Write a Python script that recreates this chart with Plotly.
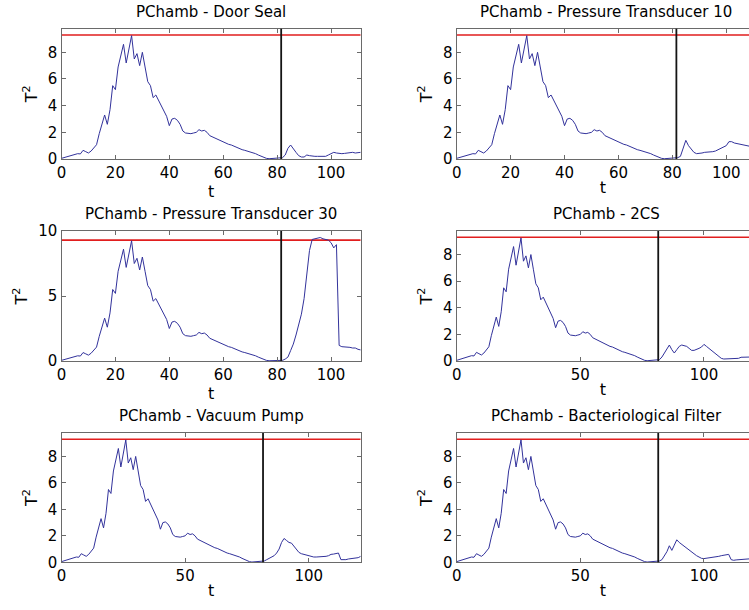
import plotly.graph_objects as go

# ---- data ----
# common (normal-operation) part, t = 0..81
common = [0.05, 0.1, 0.15, 0.2, 0.25, 0.3, 0.4, 0.38, 0.65, 0.55,
          0.45, 0.6, 0.8, 1.07, 1.9, 2.7, 3.3, 2.6, 3.7, 5.5,
          5.2, 6.9, 7.8, 8.6, 7.2, 8.3, 9.25, 7.5, 7.9, 7.0,
          8.0, 6.9, 5.8, 5.5, 4.6, 4.8, 4.4, 4.0, 3.6, 3.2,
          2.5, 3.0, 3.05, 2.9, 2.6, 2.1, 1.95, 1.9, 1.9, 1.95,
          2.0, 2.2, 2.1, 2.15, 2.0, 1.75, 1.65, 1.55, 1.45, 1.35,
          1.3, 1.2, 1.1, 1.05, 0.95, 0.9, 0.8, 0.7, 0.65, 0.6,
          0.55, 0.5, 0.4, 0.3, 0.2, 0.1, 0.05, 0.02, 0.03, 0.03,
          0.04, 0.08]

# fault parts, t = 82..111
door_seal_post = [0.1, 0.3, 0.8, 1.05, 0.75, 0.5, 0.25, 0.15, 0.15, 0.3,
                  0.25, 0.2, 0.2, 0.2, 0.2, 0.2, 0.2, 0.3, 0.4, 0.5,
                  0.45, 0.4, 0.4, 0.42, 0.45, 0.5, 0.5, 0.45, 0.5, 0.5]
pt10_post = [0.1, 0.2, 0.8, 1.4, 1.0, 0.7, 0.5, 0.4, 0.4, 0.45,
             0.5, 0.5, 0.5, 0.55, 0.6, 0.7, 0.8, 0.9, 1.0, 1.3,
             1.3, 1.2, 1.15, 1.1, 1.05, 1.0, 0.95, 0.95, 0.9, 0.9]
pt30_post = [0.05, 0.15, 0.3, 0.8, 1.3, 2.0, 2.7, 3.6, 4.8, 6.6,
             8.5, 9.35, 9.4, 9.45, 9.5, 9.4, 9.35, 9.3, 9.1, 8.7,
             8.95, 1.2, 1.1, 1.1, 1.05, 1.05, 1.0, 1.0, 0.9, 0.85]
# fault parts, t = 82..121
cs2_post = [0.1, 0.3, 0.6, 0.9, 1.2, 0.85, 0.6, 0.85, 1.1, 1.2,
            1.15, 1.1, 0.95, 0.8, 0.8, 0.85, 0.95, 1.05, 1.25, 1.1,
            0.95, 0.8, 0.6, 0.45, 0.3, 0.2, 0.15, 0.15, 0.15, 0.15,
            0.15, 0.15, 0.2, 0.28, 0.3, 0.3, 0.3, 0.3, 0.3, 0.3]
vacuum_post = [0.1, 0.2, 0.3, 0.38, 0.5, 0.7, 1.0, 1.5, 1.8, 1.65,
               1.5, 1.45, 1.2, 0.95, 0.75, 0.65, 0.6, 0.55, 0.5, 0.42,
               0.4, 0.4, 0.4, 0.4, 0.42, 0.45, 0.5, 0.6, 0.62, 0.65,
               0.7, 0.2, 0.18, 0.2, 0.25, 0.27, 0.28, 0.3, 0.35, 0.45]
bact_post = [0.1, 0.2, 0.5, 0.8, 1.25, 0.9, 1.3, 1.7, 1.5, 1.35,
             1.2, 1.05, 0.9, 0.75, 0.6, 0.5, 0.4, 0.3, 0.28, 0.3,
             0.32, 0.35, 0.38, 0.4, 0.45, 0.5, 0.55, 0.6, 0.6, 0.2,
             0.15, 0.18, 0.2, 0.22, 0.25, 0.25, 0.28, 0.3, 0.3, 0.3]

titles = ["PChamb - Door Seal", "PChamb - Pressure Transducer 10",
          "PChamb - Pressure Transducer 30", "PChamb - 2CS",
          "PChamb - Vacuum Pump", "PChamb - Bacteriological Filter"]
series = [common + door_seal_post, common + pt10_post,
          common + pt30_post, common + cs2_post,
          common + vacuum_post, common + bact_post]
xlims = [111, 111, 111, 121, 121, 121]
ymaxs = [9.77, 9.77, 10, 9.77, 9.77, 9.77]
xtick_vals = [[0, 20, 40, 60, 80, 100], [0, 20, 40, 60, 80, 100],
              [0, 20, 40, 60, 80, 100], [0, 50, 100], [0, 50, 100], [0, 50, 100]]
ytick_vals = [[0, 2, 4, 6, 8], [0, 2, 4, 6, 8], [0, 5, 10],
              [0, 2, 4, 6, 8], [0, 2, 4, 6, 8], [0, 2, 4, 6, 8]]
threshold = 9.3
fault_t = 81.5

# ---- layout geometry (pixels) ----
W, H = 749, 610
col_left = [61.5, 456.7]
ax_w = 299.2
rows_px = [(28.7, 159.0), (231.0, 361.0), (433.0, 562.3)]

FONT = "DejaVu Sans, Arial, sans-serif"
AX_COLOR = "#6a6a6a"

fig = go.Figure()
layout = dict(width=W, height=H, margin=dict(l=0, r=0, t=0, b=0, autoexpand=False),
              paper_bgcolor="white", plot_bgcolor="white", showlegend=False,
              font=dict(family=FONT, size=15, color="black"))
annotations = []
shapes = []

for i in range(6):
    r, c = divmod(i, 2)
    n = i + 1
    xa = "xaxis" if n == 1 else f"xaxis{n}"
    ya = "yaxis" if n == 1 else f"yaxis{n}"
    xr = "x" if n == 1 else f"x{n}"
    yr = "y" if n == 1 else f"y{n}"
    x0 = col_left[c]
    x1 = min(x0 + ax_w, W)
    vis_frac = (x1 - x0) / ax_w
    top, bot = rows_px[r]
    vals = series[i]
    t = list(range(len(vals)))

    # threshold line
    fig.add_trace(go.Scatter(x=[0, xlims[i]], y=[threshold, threshold], mode="lines",
                             line=dict(color="rgb(225,30,30)", width=1.6),
                             xaxis=xr, yaxis=yr, hoverinfo="skip"))
    # T^2 curve
    fig.add_trace(go.Scatter(x=t, y=vals, mode="lines",
                             line=dict(color="rgb(50,50,155)", width=1),
                             xaxis=xr, yaxis=yr))
    # fault onset line
    shapes.append(dict(type="line", xref=xr, yref=f"{yr} domain", x0=fault_t, x1=fault_t,
                       y0=0, y1=1, line=dict(color="rgb(20,20,20)", width=1.8)))

    layout[xa] = dict(domain=[x0 / W, x1 / W], range=[0, xlims[i] * vis_frac],
                      anchor=yr, tickmode="array", tickvals=xtick_vals[i],
                      ticks="inside", ticklen=4, tickcolor=AX_COLOR,
                      showline=True, linecolor=AX_COLOR, linewidth=1.2,
                      mirror="ticks", showgrid=False, zeroline=False,
                      automargin=False, tickfont=dict(size=15),
                      title=dict(text="t", font=dict(size=16), standoff=0))
    layout[ya] = dict(domain=[1 - bot / H, 1 - top / H], range=[0, ymaxs[i]],
                      anchor=xr, tickmode="array", tickvals=ytick_vals[i],
                      ticks="inside", ticklen=4, tickcolor=AX_COLOR,
                      showline=True, linecolor=AX_COLOR, linewidth=1.2,
                      mirror="ticks" if c == 0 else False,
                      showgrid=False, zeroline=False, automargin=False,
                      tickfont=dict(size=15),
                      title=dict(text="T<sup>2</sup>", font=dict(size=16), standoff=6))
    annotations.append(dict(text=titles[i], xref="paper", yref="paper",
                            x=(x0 + ax_w / 2) / W, y=1 - top / H,
                            xanchor="center", yanchor="bottom", yshift=6,
                            showarrow=False, font=dict(size=15)))

layout["annotations"] = annotations
layout["shapes"] = shapes
fig.update_layout(**layout)
fig.write_html("out.html")
